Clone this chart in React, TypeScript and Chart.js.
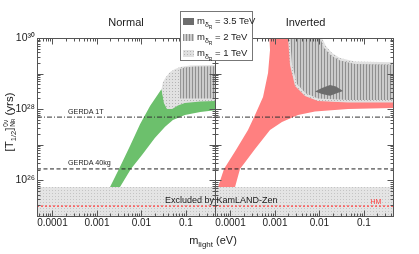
import React, { useEffect, useRef } from 'react';
import { Chart, registerables } from 'chart.js';

Chart.register(...registerables);

const FONT = '"Liberation Sans", Arial, Helvetica, sans-serif';

// ---- axes ----
const xRange: [number, number] = [4.5e-5, 0.45];
const yRange: [number, number] = [1e25, 1e30];
const xTickValues = [1e-4, 1e-3, 1e-2, 1e-1];
const xTickLabels = ['0.0001', '0.001', '0.01', '0.1'];
const yTickValues = [1e26, 1e28, 1e30];
const yTickLabels = ['10²⁶', '10²⁸', '10³⁰'];
const panelTitles = ['Normal', 'Inverted'];
const legendMasses = ['3.5', '2', '1'];

// ---- experimental limits (yrs) ----
const gerda1T = 6.0e27;
const gerda40kg = 2.1e26;
const kamlandZen = 6.5e25;
const hmLimit = 1.9e25;

// ---- regions: [m_light (eV), T_1/2 (yrs)] ----
type P = [number, number];
const normalBand: P[] = [
  [1.44e-3, 2.8e25], [1.97e-3, 6.5e25], [3.13e-3, 2.1e26], [5.53e-3, 9.2e26], [9.3e-3, 3.8e27],
  [1.56e-2, 1.23e28], [2.83e-2, 3.7e28], [3.3e-2, 1.5e28], [3.75e-2, 1.08e28], [4.6e-2, 1.08e28],
  [6.6e-2, 1.4e28], [9.5e-2, 1.6e28], [0.21, 1.76e28], [0.6, 1.8e28], [0.6, 9.8e27],
  [0.21, 8.3e27], [9.5e-2, 6.9e27], [5.1e-2, 5.0e27], [3.4e-2, 3.2e27], [2.0e-2, 1.55e27],
  [1.03e-2, 5.2e26], [5.8e-3, 2.1e26], [3.3e-3, 6.5e25], [2.42e-3, 2.8e25],
];
const normal1TeV: P[] = [
  [2.83e-2, 3.7e28], [3.05e-2, 5.8e28], [3.56e-2, 8.0e28], [4.4e-2, 1.11e29], [5.7e-2, 1.35e29],
  [7.4e-2, 1.53e29], [0.123, 1.69e29], [0.6, 1.75e29], [0.6, 1.7e28], [0.21, 1.65e28],
  [9.5e-2, 1.49e28], [6.6e-2, 1.27e28], [4.9e-2, 1.01e28], [3.75e-2, 1.01e28], [3.2e-2, 1.49e28],
];
const normal2TeV: P[] = [
  [7.4e-2, 2.0e28], [7.4e-2, 1.35e29], [9.5e-2, 1.48e29], [0.16, 1.58e29], [0.6, 1.63e29], [0.6, 2.0e28],
];
const invertedBand: P[] = [
  [4.27e-5, 2.8e25], [5.26e-5, 6.5e25], [7.17e-5, 2.1e26], [1.33e-4, 7.1e26], [2.48e-4, 2.6e27],
  [3.57e-4, 6.9e27], [5.4e-4, 2.2e28], [7.0e-4, 1.04e29], [7.75e-4, 4.6e29], [7.35e-4, 1.7e30],
  [2.07e-3, 1.7e30], [2.13e-3, 1e30], [2.36e-3, 2.0e29], [3.05e-3, 4.8e28], [5.0e-3, 2.43e28],
  [9.3e-3, 1.76e28], [4.4e-2, 1.59e28], [0.6, 1.59e28], [0.6, 1.08e28], [4.4e-2, 1.01e28],
  [7.95e-3, 8.6e27], [3.3e-3, 6.9e27], [1.44e-3, 4.4e27], [7.75e-4, 2.6e27], [3.57e-4, 7.6e26],
  [1.64e-4, 2.1e26], [1.27e-4, 6.5e25], [1.03e-4, 2.8e25],
];
const inverted1TeV: P[] = [
  [1.97e-3, 1.7e30], [1.14e-2, 1.7e30], [1.14e-2, 1e30], [1.4e-2, 6.0e29], [1.92e-2, 3.8e29],
  [2.9e-2, 2.74e29], [6.3e-2, 2.19e29], [0.6, 2.05e29], [0.6, 1.54e28], [4.4e-2, 1.54e28],
  [9.3e-3, 1.7e28], [4.74e-3, 2.35e28], [2.83e-3, 4.5e28], [2.18e-3, 1.75e29], [1.97e-3, 1e30],
];
const inverted2TeV: P[] = [
  [2.18e-3, 1.7e30], [1.03e-2, 1.7e30], [1.03e-2, 1e30], [1.27e-2, 5.2e29], [1.82e-2, 3.2e29],
  [2.9e-2, 2.33e29], [6.3e-2, 1.86e29], [0.6, 1.75e29], [0.6, 1.81e28], [4.4e-2, 1.81e28],
  [9.3e-3, 2.0e28], [5.0e-3, 2.76e28], [3.13e-3, 5.1e28], [2.42e-3, 1.86e29], [2.18e-3, 1e30],
];
const inverted35TeV: P[] = [
  [7.95e-3, 3.14e28], [1.14e-2, 3.94e28], [1.73e-2, 4.8e28], [2.36e-2, 4.35e28], [3.4e-2, 3.25e28],
  [2.36e-2, 2.76e28], [1.73e-2, 2.39e28], [1.14e-2, 2.67e28],
];

const GREEN = '#6cc06c';
const RED = '#ff8080';
const DARK = '#6d6d6d';

function makePattern(w: number, h: number, bg: string, fg: string, cells: number[][]) {
  const c = document.createElement('canvas');
  c.width = w; c.height = h;
  const g = c.getContext('2d')!;
  g.fillStyle = bg; g.fillRect(0, 0, w, h);
  g.fillStyle = fg;
  cells.forEach(([x, y, cw, ch]) => g.fillRect(x, y, cw, ch));
  return g.createPattern(c, 'repeat')!;
}

const logLabel = (values: number[], labels: string[]) => (v: any, index: number, ticks: any[]) => {
  const e = Math.log10(Number(v));
  const r = Math.round(e);
  if (Math.abs(e - r) > 1e-6) return '';
  if (index > 0 && ticks[index - 1] && Math.abs(Math.log10(ticks[index - 1].value) - r) < 1e-6) return '';
  const i = values.findIndex((t) => Math.round(Math.log10(t)) === r);
  return i >= 0 ? labels[i] : '';
};

const framePlugin = {
  id: 'frame',
  afterDatasetsDraw(chart: any) {
    const { ctx, chartArea: a, scales } = chart;
    const xs = scales.x, ys = scales.y;
    const L = Math.round(a.left) + 0.5, R = Math.round(a.right) + 0.5;
    const T = Math.round(a.top) + 0.5, B = Math.round(a.bottom) + 0.5;
    const each = (min: number, max: number, fn: (v: number, major: boolean) => void) => {
      for (let e = Math.floor(Math.log10(min)); e <= Math.ceil(Math.log10(max)); e++) {
        for (let k = 1; k <= 9; k++) {
          const v = k * Math.pow(10, e);
          if (v >= min * 0.999 && v <= max * 1.001) fn(v, k === 1);
        }
      }
    };
    ctx.save();
    ctx.strokeStyle = '#555';
    ctx.lineWidth = 1;
    ctx.beginPath();
    each(xs.min, xs.max, (v, major) => {
      const p = Math.round(xs.getPixelForValue(v)) + 0.5;
      const len = major ? 6 : 3;
      ctx.moveTo(p, B); ctx.lineTo(p, B - len);
      ctx.moveTo(p, T); ctx.lineTo(p, T + len);
    });
    each(ys.min, ys.max, (v, major) => {
      const p = Math.round(ys.getPixelForValue(v)) + 0.5;
      const len = major ? 6 : 3;
      ctx.moveTo(L, p); ctx.lineTo(L + len, p);
      ctx.moveTo(R, p); ctx.lineTo(R - len, p);
    });
    ctx.stroke();
    ctx.strokeRect(L, T, R - L, B - T);
    ctx.restore();
  },
};

function buildDatasets(band: P[], bandColor: string, r1: P[], r2: P[], r35: P[] | null, pats: any) {
  const poly = (pts: P[], bg: any, order: number) => ({
    data: pts.map(([x, y]) => ({ x, y })),
    fill: 'shape',
    backgroundColor: bg,
    borderColor: 'rgba(0,0,0,0)',
    borderWidth: 1,
    pointRadius: 0,
    tension: 0,
    order,
  });
  const hline = (v: number, color: string, dash: number[], width: number, order: number) => ({
    data: [{ x: xRange[0], y: v }, { x: xRange[1], y: v }],
    fill: false,
    borderColor: color,
    borderDash: dash,
    borderWidth: width,
    pointRadius: 0,
    order,
  });
  const ds: any[] = [
    hline(gerda1T, '#333', [5, 2, 1, 2], 1, 0),
    hline(gerda40kg, '#222', [4, 2.5], 1, 1),
    hline(hmLimit, '#ff3b3b', [2, 2], 1.4, 2),
    {
      data: [{ x: xRange[0], y: kamlandZen }, { x: xRange[1], y: kamlandZen }],
      fill: 'start',
      backgroundColor: pats.kz,
      borderColor: 'rgba(0,0,0,0)',
      borderWidth: 1,
      pointRadius: 0,
      order: 3,
    },
  ];
  if (r35) ds.push(poly(r35, DARK, 4));
  ds.push(poly(r2, pats.hatch, 5));
  ds.push(poly(r1, pats.dots, 6));
  ds.push(poly(band, bandColor, 7));
  return ds;
}

function buildOptions(showY: boolean, padLeft: number, padRight: number): any {
  return {
    responsive: false,
    animation: false,
    events: [],
    layout: { padding: { left: padLeft, right: padRight, top: 38, bottom: 0 } },
    plugins: { legend: { display: false }, tooltip: { enabled: false }, title: { display: false } },
    scales: {
      x: {
        type: 'logarithmic',
        min: xRange[0],
        max: xRange[1],
        afterFit: (s: any) => { s.height = 38; },
        grid: { display: false, drawTicks: false },
        border: { display: false },
        ticks: {
          autoSkip: false, maxRotation: 0, minRotation: 0, padding: 1, color: '#1a1a1a',
          font: { family: FONT, size: 10 },
          callback: logLabel(xTickValues, xTickLabels),
        },
      },
      y: {
        type: 'logarithmic',
        display: showY,
        min: yRange[0],
        max: yRange[1],
        afterFit: (s: any) => { s.width = showY ? 37 : 0; },
        grid: { display: false, drawTicks: false },
        border: { display: false },
        ticks: {
          autoSkip: false, padding: 2, color: '#1a1a1a',
          font: { family: FONT, size: 10.5 },
          callback: logLabel(yTickValues, yTickLabels),
        },
      },
    },
  };
}

const abs = (left: number, top: number, extra: any = {}): any => ({
  position: 'absolute', left, top, transform: 'translate(-50%, -50%)', whiteSpace: 'nowrap',
  fontFamily: FONT, color: '#1a1a1a', lineHeight: 1, ...extra,
});

const swatchStyles: any[] = [
  { background: DARK },
  { background: 'repeating-linear-gradient(90deg, #8f8f8f 0 1px, #cbcbcb 1px 3px)' },
  { background: '#e0e0e0', backgroundImage: 'radial-gradient(#b4b4b4 0.6px, transparent 0.8px)', backgroundSize: '3px 3px' },
];

export default function App() {
  const leftRef = useRef<HTMLCanvasElement>(null);
  const rightRef = useRef<HTMLCanvasElement>(null);

  useEffect(() => {
    const pats = {
      dots: makePattern(3, 3, '#e1e1e1', '#b3b3b3', [[1, 1, 1, 1]]),
      hatch: makePattern(3, 1, '#cbcbcb', '#8f8f8f', [[0, 0, 1, 1]]),
      kz: makePattern(3, 3, '#e4e4e4', '#c4c4c4', [[1, 1, 1, 1]]),
    };
    const left = new Chart(leftRef.current!, {
      type: 'line',
      data: { datasets: buildDatasets(normalBand, GREEN, normal1TeV, normal2TeV, null, pats) },
      options: buildOptions(true, 0, 204),
      plugins: [framePlugin],
    } as any);
    const right = new Chart(rightRef.current!, {
      type: 'line',
      data: { datasets: buildDatasets(invertedBand, RED, inverted1TeV, inverted2TeV, inverted35TeV, pats) },
      options: buildOptions(false, 215, 26),
      plugins: [framePlugin],
    } as any);
    return () => { left.destroy(); right.destroy(); };
  }, []);

  const canvasStyle: any = { position: 'absolute', left: 0, top: 0, width: 419, height: 254 };
  const legendRows = legendMasses.map((m, i) => (
    <div key={m} style={{ position: 'absolute', left: 2, top: 2 + i * 16, height: 14, display: 'flex', alignItems: 'center', whiteSpace: 'nowrap', fontFamily: FONT, fontSize: 9.5, color: '#1a1a1a', lineHeight: 1 }}>
      <span style={{ display: 'inline-block', width: 11, height: 7, marginRight: 3, ...swatchStyles[i] }} />
      <span>m</span>
      <span style={{ fontSize: 7, position: 'relative', top: 3 }}>δ<span style={{ fontSize: 5, position: 'relative', top: 2 }}>R</span></span>
      <span>&nbsp;= {m} TeV</span>
    </div>
  ));

  return (
    <div style={{ position: 'absolute', left: 0, top: 0, width: 419, height: 254, background: '#fff', overflow: 'hidden' }}>
      <canvas ref={leftRef} width={419} height={254} style={canvasStyle} />
      <canvas ref={rightRef} width={419} height={254} style={canvasStyle} />
      <div style={abs(126, 22, { fontSize: 11 })}>{panelTitles[0]}</div>
      <div style={abs(305.5, 22, { fontSize: 11 })}>{panelTitles[1]}</div>
      <div style={abs(10, 122, { fontSize: 11.5, transform: 'translate(-50%, -50%) rotate(-90deg)' })}>
        [T<span style={{ fontSize: 7.5, position: 'relative', top: 3 }}>1/2</span>]
        <span style={{ display: 'inline-flex', flexDirection: 'column', fontSize: 6.5, verticalAlign: 'middle', lineHeight: 1.05, marginLeft: 1 }}>
          <span>0ν</span>
          <span>N<span style={{ fontSize: 4.5 }}>R</span></span>
        </span>
        <span>&nbsp;(yrs)</span>
      </div>
      <div style={abs(213, 240, { fontSize: 11 })}>
        m<span style={{ fontSize: 8, position: 'relative', top: 3 }}>light</span> (eV)
      </div>
      <div style={{ position: 'absolute', left: 68, top: 107.5, fontFamily: FONT, fontSize: 7.2, color: '#222', lineHeight: 1, whiteSpace: 'nowrap' }}>GERDA 1T</div>
      <div style={{ position: 'absolute', left: 68, top: 158.5, fontFamily: FONT, fontSize: 7.2, color: '#222', lineHeight: 1, whiteSpace: 'nowrap' }}>GERDA 40kg</div>
      <div style={{ position: 'absolute', left: 165, top: 195.5, fontFamily: FONT, fontSize: 9, color: '#1a1a1a', lineHeight: 1, whiteSpace: 'nowrap' }}>Excluded by KamLAND-Zen</div>
      <div style={abs(376, 201, { fontSize: 7, color: '#ff3b3b' })}>HM</div>
      <div style={{ position: 'absolute', left: 180, top: 11, width: 73, height: 50, boxSizing: 'border-box', border: '1px solid #777', background: '#fff' }}>
        {legendRows}
      </div>
    </div>
  );
}
